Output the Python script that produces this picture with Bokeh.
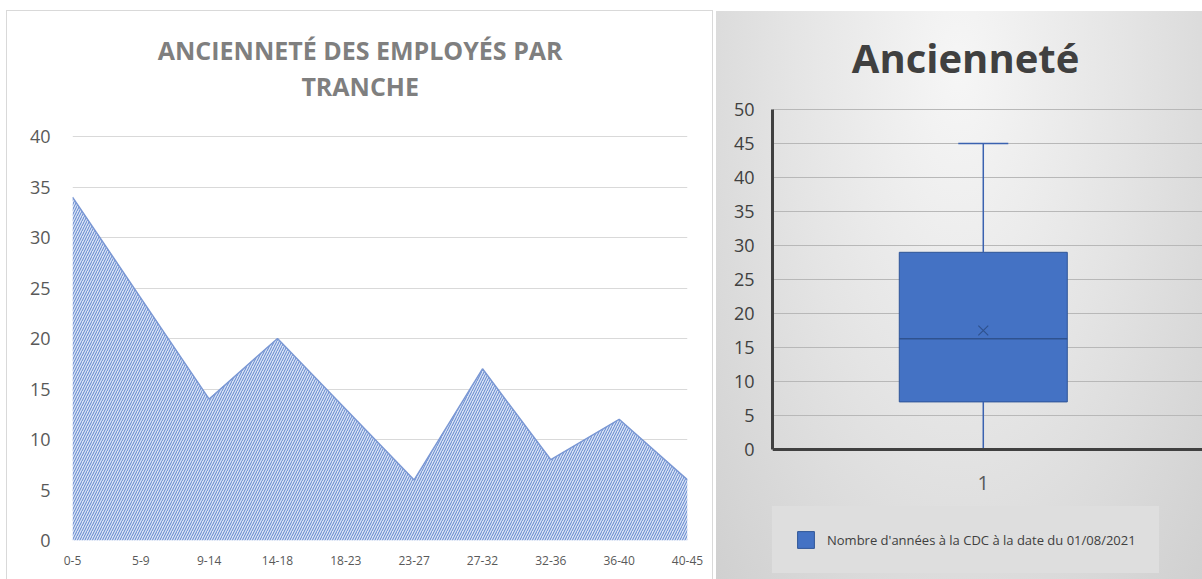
from bokeh.plotting import figure
from bokeh.models import Range1d, FixedTicker, Label, Legend, LegendItem, Span
from bokeh.layouts import row
from bokeh.embed import file_html
from bokeh.resources import INLINE

# ---- data: left area chart ----
tranches = ["0-5", "5-9", "9-14", "14-18", "18-23", "23-27", "27-32", "32-36", "36-40", "40-45"]
effectifs = [34, 24, 14, 20, 13, 6, 17, 8, 12, 6]
left_yticks = [0, 5, 10, 15, 20, 25, 30, 35, 40]
left_title = ["ANCIENNETÉ DES EMPLOYÉS PAR", "TRANCHE"]

# ---- data: right box plot ----
box_categories = ["1"]
box_min = [0]
box_q1 = [7]
box_median = [16.3]
box_q3 = [29]
box_max = [45]
box_mean = [17.5]
right_yticks = [0, 5, 10, 15, 20, 25, 30, 35, 40, 45, 50]
right_title = "Ancienneté"
legend_label = "Nombre d'années à la CDC à la date du 01/08/2021"

FONT = "Open Sans"

# ================= LEFT =================
# frame spans the whole panel height; the value axis covers 0..40,
# the space above 40 holds the two-line title
L_PX = 10.1                      # pixels per unit
L_TOP = 40 + 125 / L_PX          # extra room above the 40 gridline
xs = list(range(len(tranches)))
p1 = figure(frame_width=615, frame_height=529, output_backend="svg", toolbar_location=None,
            x_range=Range1d(0, len(tranches) - 1), y_range=Range1d(0, L_TOP),
            min_border_left=65, min_border_right=25, min_border_top=0,
            min_border_bottom=39, frame_align=False, margin=(11, 0, 0, 7))
p1.title.text = ""
p1.outline_line_color = None
p1.background_fill_color = "white"
p1.border_fill_color = "white"
p1.styles = {"outline": "1px solid #d9d9d9"}

for txt, dy in zip(left_title, [49, 85]):
    p1.add_layout(Label(x=(len(tranches) - 1) / 2 - 0.29, y=L_TOP - (dy - 11) / L_PX, text=txt,
                        text_align="center", text_baseline="middle",
                        text_font=FONT, text_font_size="25px", text_font_style="bold",
                        text_color="#7f7f7f"))

p1.varea(x=xs, y1=[0] * len(xs), y2=effectifs, fill_color="#dae3f5",
         hatch_pattern="/", hatch_color="#4f79c8", hatch_alpha=0.9,
         hatch_scale=5, hatch_weight=1.0)
p1.line(x=xs, y=effectifs, line_color="#7b98d4", line_width=1.5)

p1.xgrid.visible = False
p1.ygrid.grid_line_color = "#d9d9d9"
p1.ygrid.grid_line_width = 1

p1.yaxis.ticker = FixedTicker(ticks=left_yticks)
p1.yaxis.axis_line_color = None
p1.yaxis.major_tick_line_color = None
p1.yaxis.minor_tick_line_color = None
p1.yaxis.major_label_standoff = 16
p1.yaxis.major_label_text_font = FONT
p1.yaxis.major_label_text_font_size = "18px"
p1.yaxis.major_label_text_color = "#595959"

p1.xaxis.ticker = FixedTicker(ticks=xs)
p1.xaxis.major_label_overrides = {i: t for i, t in enumerate(tranches)}
p1.xaxis.axis_line_color = None
p1.xaxis.major_tick_line_color = None
p1.xaxis.minor_tick_line_color = None
p1.xaxis.major_label_standoff = 9
p1.xaxis.major_label_text_font = FONT
p1.xaxis.major_label_text_font_size = "12px"
p1.xaxis.major_label_text_color = "#595959"

# ================= RIGHT =================
# frame spans the whole panel; the value axis covers 0..50, title above,
# category label and legend below
R_PX = 6.8
R_TOP = 50 + 98 / R_PX
R_BOT = -130 / R_PX
bx = [i + 1 for i in range(len(box_categories))]
p2 = figure(frame_width=430, frame_height=568, output_backend="svg", toolbar_location=None,
            x_range=Range1d(0.5, 1.52), y_range=Range1d(R_BOT, R_TOP),
            min_border_left=56, min_border_right=0, min_border_top=0,
            min_border_bottom=0, frame_align=False, margin=(11, 0, 0, 4))
p2.title.text = ""
p2.outline_line_color = None
p2.background_fill_alpha = 0
p2.border_fill_alpha = 0
p2.styles = {"background": "radial-gradient(ellipse at 50% 10%, #f6f6f6 0%, #e4e4e4 50%, #d0d0d0 100%)"}

p2.add_layout(Label(x=0.958, y=R_TOP - 46 / R_PX, text=right_title, text_align="center",
                    text_baseline="middle", text_font=FONT, text_font_size="40px",
                    text_font_style="bold", text_color="#404040"))

p2.xgrid.visible = False
p2.ygrid.grid_line_color = "#b8b8b8"
p2.ygrid.grid_line_width = 1
p2.ygrid.bounds = (0, 50)

BOX_W = 0.3985
CAP_W = 0.1186
box_r = p2.vbar(x=bx, width=BOX_W, bottom=box_q1, top=box_q3,
                fill_color="#4472c4", line_color="#2f5597", line_width=1)
p2.segment(x0=bx, y0=box_q3, x1=bx, y1=box_max, line_color="#3a62b0", line_width=1.5)
p2.segment(x0=bx, y0=box_min, x1=bx, y1=box_q1, line_color="#3a62b0", line_width=1.5)
p2.segment(x0=[x - CAP_W / 2 for x in bx], y0=box_max, x1=[x + CAP_W / 2 for x in bx],
           y1=box_max, line_color="#3a62b0", line_width=1.5)
p2.segment(x0=[x - CAP_W / 2 for x in bx], y0=box_min, x1=[x + CAP_W / 2 for x in bx],
           y1=box_min, line_color="#3a62b0", line_width=1.5)
p2.segment(x0=[x - BOX_W / 2 for x in bx], y0=box_median, x1=[x + BOX_W / 2 for x in bx],
           y1=box_median, line_color="#2f528f", line_width=1.5)
p2.scatter(x=bx, y=box_mean, marker="x", size=14, line_color="#2f528f", line_width=1.2)

# value axis limited to 0..50
p2.yaxis.ticker = FixedTicker(ticks=right_yticks)
p2.yaxis.bounds = (0, 50)
p2.yaxis.axis_line_color = "#404040"
p2.yaxis.axis_line_width = 3
p2.yaxis.major_tick_line_color = None
p2.yaxis.minor_tick_line_color = None
p2.yaxis.major_label_standoff = 12
p2.yaxis.major_label_text_font = FONT
p2.yaxis.major_label_text_font_size = "18px"
p2.yaxis.major_label_text_color = "#404040"

# category axis: baseline at 0 and its label
p2.xaxis.visible = False
p2.add_layout(Span(location=0, dimension="width", line_color="#404040", line_width=3))
for x, c in zip(bx, box_categories):
    p2.add_layout(Label(x=x, y=-33 / R_PX, text=c, text_align="center", text_baseline="middle",
                        text_font=FONT, text_font_size="20px", text_color="#595959"))

LEG_BG = "#dedede"
legend = Legend(items=[LegendItem(label=legend_label, renderers=[box_r])],
                location=(0, 6), orientation="horizontal",
                background_fill_color=LEG_BG, background_fill_alpha=1.0,
                border_line_color=LEG_BG, border_line_width=1,
                padding=22, glyph_width=21, glyph_height=21,
                label_standoff=11, label_text_font=FONT, label_text_font_size="13px",
                label_text_color="#404040", margin=0)
p2.add_layout(legend)

layout = row(p1, p2, spacing=0)
open("out.html", "w").write(file_html(layout, INLINE))
